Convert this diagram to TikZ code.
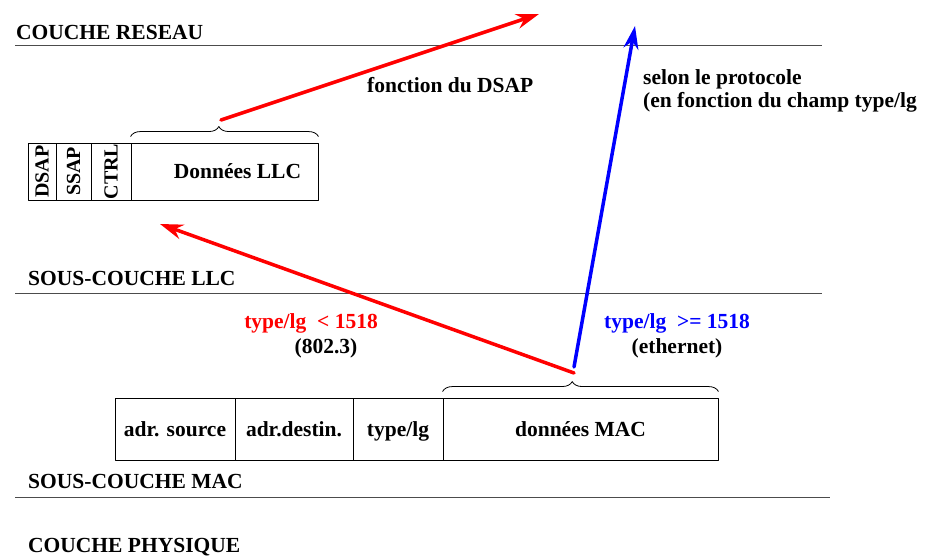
\documentclass[tikz,border=0pt]{standalone}
\usepackage{fontspec}
\setmainfont{Liberation Serif}
\usetikzlibrary{arrows.meta,decorations.pathreplacing}

\tikzset{
  cell/.style={draw,line width=0.9pt,inner sep=0pt,text height=15pt,text depth=0pt},
  champ/.style={font=\fontsize{20}{22}\selectfont\bfseries},
  layer/.style={anchor=base west,inner sep=0pt},
  texte/.style={inner sep=0pt,align=left},
  sep/.style={draw=black!70,line width=0.9pt},
  accolade/.style={decorate,decoration={brace,amplitude=10pt,aspect=0.47},line width=0.8pt},
  fleche/.style={->,line width=3.5pt,line cap=round},
}

\begin{document}
\begin{tikzpicture}[x=1pt,y=-1pt,>={Stealth[length=23pt,width=15pt]},
  font=\fontsize{21.5}{23}\selectfont\bfseries,line join=round]
\useasboundingbox (0,0) rectangle (928,559);
% les couches
\draw[sep] (15,45) -- (822,45);
\draw[sep] (15,293) -- (822,293);
\draw[sep] (15,497) -- (830,497);
\node[layer] (reseau) at (16,40) {COUCHE RESEAU};
\node[layer] (souscllc) at (28,285) {SOUS-COUCHE LLC};
\node[layer] (souscmac) at (28,488) {SOUS-COUCHE MAC};
\node[layer] (physique) at (28,552) {COUCHE PHYSIQUE};

% trame LLC
\node[cell,minimum width=28pt,minimum height=57pt,
  label={[champ]center:\rotatebox{90}{DSAP}}] (dsap) at (42,171.5) {};
\node[cell,minimum width=35pt,minimum height=57pt,
  label={[champ]center:\rotatebox{90}{SSAP}}] (ssap) at (73.5,171.5) {};
\node[cell,minimum width=40pt,minimum height=57pt,
  label={[champ]center:\rotatebox{90}{CTRL}}] (ctrl) at (111,171.5) {};
\node[cell,minimum width=187pt,minimum height=57pt,
  label={[xshift=13pt]center:Données LLC}] (dllc) at (224.5,171.5) {};
\draw[accolade] ([yshift=6pt]dllc.north west) -- ([yshift=6pt]dllc.north east);

% trame MAC
\node[cell,minimum width=120pt,minimum height=62pt] (src) at (175,429) {adr. source};
\node[cell,minimum width=118pt,minimum height=62pt] (dst) at (294,429) {adr.destin.};
\node[cell,minimum width=90pt,minimum height=62pt] (type) at (398,429) {type/lg};
\node[cell,minimum width=275pt,minimum height=62pt] (dmac) at (580.5,429) {données MAC};
\draw[accolade] ([yshift=6pt]dmac.north west) -- ([yshift=6pt]dmac.north east);

% fleches
\coordinate (llctip) at (221,120);
\coordinate (mactip) at (574,367);
\coordinate (versreseau) at (539,14);
\coordinate (versproto) at (635,26);
\coordinate (versllc) at (160,224);
\draw[fleche,red] (llctip) -- (versreseau);
\draw[fleche,blue] (mactip) -- (versproto);
\draw[fleche,red] ([yshift=-6pt]mactip) -- (versllc);

% textes
\node[texte,anchor=base west] (dsaptxt) at (367,93) {fonction du DSAP};
\node[texte,anchor=base west] (prototxt) at (643,107) {selon le protocole\\(en fonction du champ type/lg};
\node[texte,red,anchor=base] (inf) at (311,328) {type/lg~~< 1518};
\node[texte,anchor=base] (norme) at (326,353) {(802.3)};
\node[texte,blue,anchor=base] (sup) at (677,328) {type/lg~~>= 1518};
\node[texte,anchor=base] (eth) at (677,353) {(ethernet)};
\end{tikzpicture}
\end{document}
